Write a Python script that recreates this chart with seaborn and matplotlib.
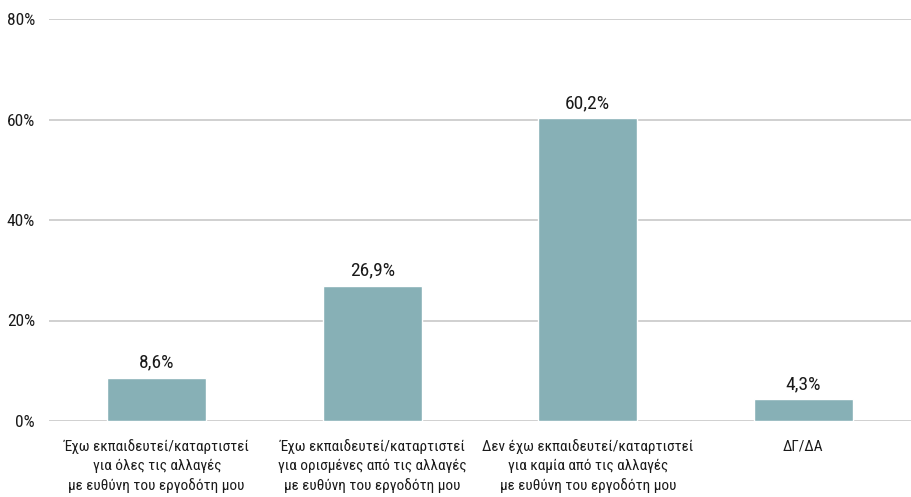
import matplotlib
matplotlib.use("Agg")
import matplotlib.pyplot as plt
import seaborn as sns
import pandas as pd
from matplotlib import font_manager

categories = [
    "Έχω εκπαιδευτεί/καταρτιστεί\nγια όλες τις αλλαγές\nμε ευθύνη του εργοδότη μου",
    "Έχω εκπαιδευτεί/καταρτιστεί\nγια ορισμένες από τις αλλαγές\nμε ευθύνη του εργοδότη μου",
    "Δεν έχω εκπαιδευτεί/καταρτιστεί\nγια καμία από τις αλλαγές\nμε ευθύνη του εργοδότη μου",
    "ΔΓ/ΔΑ",
]
values = [8.6, 26.9, 60.2, 4.3]
value_labels = ["8,6%", "26,9%", "60,2%", "4,3%"]
yticks = [0, 20, 40, 60, 80]
ytick_labels = ["0%", "20%", "40%", "60%", "80%"]

sns.set_theme(style="white")
names = {f.name for f in font_manager.fontManager.ttflist}
if "Roboto Condensed" in names:
    fam, k = "Roboto Condensed", 1.0
elif "Liberation Sans Narrow" in names:
    fam, k = "Liberation Sans Narrow", 1.0
else:
    fam, k = "Roboto", 0.87
plt.rcParams["font.family"] = [fam, "DejaVu Sans"]

df = pd.DataFrame({"cat": categories, "val": values})
fig = plt.figure(figsize=(9.11, 4.97), dpi=100)
ax = fig.add_axes([49 / 911, 76 / 497, 862 / 911, 402 / 497])
sns.barplot(data=df, x="cat", y="val", color="#87b0b6", width=0.46, saturation=1, ax=ax, zorder=3)
ax.set_ylim(0, 80)
ax.set_yticks(yticks)
ax.set_yticklabels(ytick_labels, fontsize=12.5 * k, color="#1a1a1a")
ax.set_xlabel("")
ax.set_ylabel("")
ax.tick_params(axis="x", labelsize=11 * k, colors="#1a1a1a", length=0, pad=13)
for lbl in ax.get_xticklabels():
    lbl.set_linespacing(1.42)
ax.tick_params(axis="y", length=0, pad=10)
for y in yticks:
    ax.axhline(y, color="#c8c8c8", lw=1.2, zorder=1)
for s in ax.spines.values():
    s.set_visible(False)
for p, lab in zip(ax.patches, value_labels):
    ax.text(p.get_x() + p.get_width() / 2, p.get_height() + 1.3, lab,
            ha="center", va="bottom", fontsize=14 * k, color="#1a1a1a")
fig.savefig("out.png", dpi=100, facecolor="white")
